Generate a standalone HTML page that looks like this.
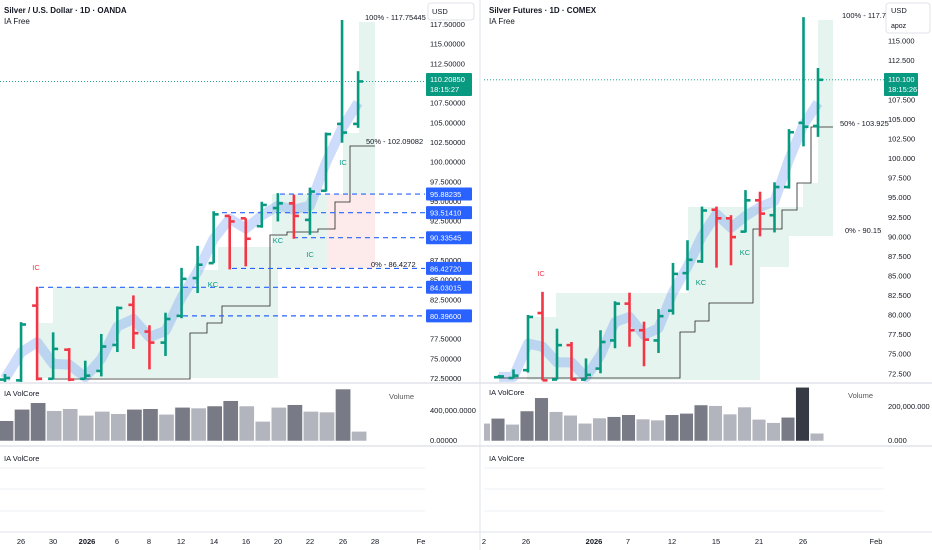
<!DOCTYPE html>
<html><head><meta charset="utf-8"><style>
html,body{margin:0;padding:0;background:#fff;}
svg{display:block;font-family:"Liberation Sans",sans-serif;}
</style></head><body>
<svg id="c" width="932" height="550" viewBox="0 0 932 550" xmlns="http://www.w3.org/2000/svg">
</svg>
<script>
// ---- data: left panel (Silver / USD OANDA) ----
const leftOpen  = [72.3,72.2,81.7,72.4,76.1,72.4,73.4,76.7,81.8,78.4,77.0,80.4,85.2,87.1,93.1,92.8,91.8,94.1,94.7,92.6,96.3,104.8,104.8];
const leftHigh  = [73.0,79.6,84.1,78.3,76.3,74.7,78.1,81.6,83.0,79.2,80.8,86.5,89.3,93.7,93.1,92.8,94.9,96.0,95.8,96.7,103.7,118.0,111.5];
const leftLow   = [72.0,72.0,72.2,72.3,72.1,72.3,72.7,75.8,76.2,73.6,75.3,80.1,83.3,87.1,86.3,86.7,91.6,92.4,90.2,90.7,96.2,102.4,104.3];
const leftClose = [72.5,79.3,72.4,76.2,72.3,72.8,76.5,81.4,78.2,77.0,80.0,85.1,86.9,93.3,92.4,90.2,94.5,94.7,93.1,96.2,103.5,103.7,110.2];
const leftVol   = [268,418,505,400,426,338,391,360,418,426,352,444,435,462,532,462,259,444,479,391,382,686,127];
const leftVolDark = [1,1,1,0,0,0,0,0,1,1,0,1,0,1,1,0,0,0,1,0,0,1,0];
const leftTicks = [117.5,115,112.5,110,107.5,105,102.5,100,97.5,95,92.5,90,87.5,85,82.5,80,77.5,75,72.5];
const leftLevels = [95.88235,93.5141,90.33545,86.4272,84.03015,80.396];
const leftLevelStart = [280,222,293,232,39,183];
// ---- data: right panel (Silver Futures COMEX) ----
const rightOpen  = [72.0,71.9,72.9,80.2,71.7,76.1,71.7,73.1,76.7,81.4,78.0,76.7,80.5,85.3,86.8,93.4,92.3,90.6,94.6,92.7,96.3,104.5,104.1];
const rightHigh  = [72.3,73.0,79.95,82.9,78.2,76.5,74.4,78.0,81.7,82.8,79.1,80.7,86.6,89.5,93.8,93.8,92.7,95.9,95.7,96.9,103.7,118.0,111.5];
const rightLow   = [71.9,71.9,72.6,71.6,71.7,71.6,71.7,72.5,75.7,75.9,73.4,75.1,80.0,83.1,86.6,86.0,86.3,90.5,90.0,90.5,96.1,101.5,102.7];
const rightClose = [72.1,72.2,79.7,71.6,76.1,71.7,72.3,76.5,81.4,78.0,76.8,79.8,85.2,87.0,93.3,92.3,89.9,94.6,92.9,96.3,103.3,104.0,110.0];
const rightVol   = [103,132,97,175,252,171,150,103,134,142,153,128,122,153,161,210,206,157,198,126,107,138,313,45];
const rightVolDark = [0,1,0,1,1,0,0,0,0,1,1,0,0,1,1,1,0,0,0,0,0,1,2,0];
const rightTicks = [115,112.5,110,107.5,105,102.5,100,97.5,95,92.5,90,87.5,85,82.5,80,77.5,75,72.5];
const leftDates = ["26","30","2026","6","8","12","14","16","20","22","26","28","Fe"];
const leftDateX = [21,53,87,117,149,181,214,246,278,310,343,375,421];
const rightDates = ["2","26","2026","7","12","15","21","26","Feb"];
const rightDateX = [484,526,594,628,672,716,759,803,876];

const NS="http://www.w3.org/2000/svg";
const svg=document.getElementById('c');
function mk(tag,attrs,parent){const e=document.createElementNS(NS,tag);for(const k in attrs)e.setAttribute(k,attrs[k]);(parent||svg).appendChild(e);return e;}
function txt(x,y,s,attrs,parent){const t=mk('text',Object.assign({x:x,y:y,'font-size':8,fill:'#131722'},attrs||{}),parent);t.textContent=s;return t;}

const GREEN='#089981',RED='#f23645',ZONE='#e6f4ef';
const yL=p=>378-(p-72.5)*7.867;
const xL=i=>5+16.05*i;
const yR=p=>373.3-(p-72.5)*7.827;
const xR=i=>499+14.5*i;
const vBase=441;
const vL=v=>vBase-v*30.3/400;
const vR=v=>vBase-v*34.3/200;

const defs=mk('defs',{});
const cpL=mk('clipPath',{id:'cl'},defs);mk('rect',{x:0,y:0,width:425,height:382},cpL);
const cpR=mk('clipPath',{id:'cr'},defs);mk('rect',{x:484,y:0,width:400,height:382},cpR);
const cvL=mk('clipPath',{id:'cvl'},defs);mk('rect',{x:0,y:385,width:425,height:60},cvL);
const cvR=mk('clipPath',{id:'cvr'},defs);mk('rect',{x:484,y:385,width:400,height:60},cvR);

let sep=mk('line',{x1:480,y1:0,x2:480,y2:550,stroke:'#e0e3eb','stroke-width':1});


[383,446].forEach(y=>{let l=mk('line',{x1:0,y1:y,x2:932,y2:y,stroke:'#e0e3eb','stroke-width':1.5});
 
 });
[468,489,511].forEach(y=>{let l=mk('line',{x1:0,y1:y,x2:425,y2:y,stroke:'#eef0f3'});
 
 
 let r=mk('line',{x1:484,y1:y,x2:884,y2:y,stroke:'#eef0f3'});
 
 });
let xa=mk('line',{x1:0,y1:532,x2:932,y2:532,stroke:'#e0e3eb'});



function panel(side){
 const L=side==='L';
 const O=L?leftOpen:rightOpen,H=L?leftHigh:rightHigh,Lo=L?leftLow:rightLow,C=L?leftClose:rightClose;
 const xs=L?xL:xR, ys=L?yL:yR;
 const g=mk('g',{'clip-path':L?'url(#cl)':'url(#cr)'});
 
 
 const zones=L?[[39,323,14,55],[53,287,225,91],[200,270,78,17],[218,247,60,23],[272,194,55,74],[343,133,16,61],[359,22,16,172]]
             :[[527,317,29,63],[556,293,204,87],[688,242,72,51],[688,207,101,60],[789,207,44,29],[803,183,15,53],[818,20,15,216]];
 zones.forEach(z=>{const r=mk('rect',{x:z[0],y:z[1],width:z[2],height:z[3],fill:ZONE},g);
  
  });
 if(L){const p=mk('rect',{x:327,y:194,width:48,height:74,fill:'#fdebeb'},g);
  
  }
 let d='';O.forEach((o,i)=>{d+=(i?'L':'M')+xs(i)+' '+ys((o+C[i])/2);});
 const rb=mk('path',{d:d,fill:'none',stroke:'rgba(90,140,240,0.3)','stroke-width':10,'stroke-linejoin':'round'},g);
 
 
 const st=L?[[53,379],[190,379],[190,333],[207,333],[207,323],[222,323],[222,306],[270,306],[270,235],[287,235],[287,232],[318,232],[318,229],[335,229],[335,202],[350,202],[350,146],[375,146]]
           :[[499,378],[680,378],[680,332],[695,332],[695,321],[709,321],[709,303],[753,303],[753,229],[782,229],[782,210],[797,210],[797,183],[811,183],[811,127],[833,127]];
 const sl=mk('polyline',{points:st.map(p=>p.join(',')).join(' '),fill:'none',stroke:'#222','stroke-width':0.8},g);
 
 
 if(L){leftLevels.forEach((lv,i)=>{const l=mk('line',{x1:leftLevelStart[i],y1:yL(lv),x2:425,y2:yL(lv),stroke:'#2962ff','stroke-width':1.2,'stroke-dasharray':'5,4'},g);
  
  });}
 const cp=C[C.length-1];
 const pl=mk('line',{x1:L?0:484,y1:ys(cp),x2:L?425:884,y2:ys(cp),stroke:GREEN,'stroke-width':0.8,'stroke-dasharray':'1,2'},g);
 
 
 O.forEach((o,i)=>{const prev=i?C[i-1]:o;const c=C[i]>=prev?GREEN:RED;const x=xs(i);
  const b=mk('g',{stroke:c,'stroke-width':2.6},g);
  
  
  mk('line',{x1:x,y1:ys(H[i]),x2:x,y2:ys(Lo[i])},b);
  mk('line',{x1:x-5,y1:ys(o),x2:x,y2:ys(o)},b);
  mk('line',{x1:x,y1:ys(C[i]),x2:x+5,y2:ys(C[i])},b);});
 return g;
}
panel('L');panel('R');

[[36,270,'IC',RED],[213,287,'KC',GREEN],[278,243,'KC',GREEN],[310,257,'IC',GREEN],[343,165,'IC',GREEN],[541,276,'IC',RED],[701,285,'KC',GREEN],[745,255,'KC',GREEN]].forEach(a=>{
 const t=txt(a[0],a[1],a[2],{fill:a[3],'font-size':7.5,'text-anchor':'middle'});
 
 });
[[365,20,'100% - 117.75445'],[366,144,'50% - 102.09082'],[371,267,'0% - 86.4272'],[842,18,'100% - 117.7'],[840,126,'50% - 103.925'],[845,233,'0% - 90.15']].forEach(a=>{
 const t=txt(a[0],a[1],a[2],{'font-size':7.5});
 
 });

leftTicks.forEach(p=>{const t=txt(430,yL(p)+3,p.toFixed(5),{'font-size':7.5});
 
 });
rightTicks.forEach(p=>{const t=txt(888,yR(p)+3,p.toFixed(3),{'font-size':7.5});
 
 });
leftLevels.forEach(lv=>{const g=mk('g',{});
 
 
 mk('rect',{x:426,y:yL(lv)-6.5,width:46,height:13,fill:'#2962ff',rx:1},g);
 txt(430,yL(lv)+3,lv.toFixed(5),{fill:'#fff','font-size':7.5},g);});
[[426,73,46,'110.20850','18:15:27'],[884,73,34,'110.100','18:15:26']].forEach(a=>{const g=mk('g',{});
 
 
 mk('rect',{x:a[0],y:a[1],width:a[2],height:23,fill:GREEN,rx:1},g);
 txt(a[0]+4,a[1]+9,a[3],{'font-size':7.5,fill:'#fff'},g);
 txt(a[0]+4,a[1]+19,a[4],{'font-size':7.5,fill:'#fff'},g);});
let cb=mk('rect',{x:428,y:3,width:46,height:17,fill:'#fff',stroke:'#e0e3eb',rx:3});


txt(432,14,'USD',{'font-size':7.5});
cb=mk('rect',{x:886,y:3,width:44,height:30,fill:'#fff',stroke:'#e0e3eb',rx:3});


txt(891,13,'USD',{'font-size':7.5});txt(891,28,'apoz',{'font-size':7});

[[4,'Silver / U.S. Dollar · 1D · OANDA'],[489,'Silver Futures · 1D · COMEX']].forEach(a=>{const t=txt(a[0],13,a[1],{'font-size':8,'font-weight':'bold'});
 
 
 const s=txt(a[0],24,'IA Free',{'font-size':8});
 
 });

function vol(L){const g=mk('g',{'clip-path':L?'url(#cvl)':'url(#cvr)'});
 
 
 const V=L?leftVol:rightVol,D=L?leftVolDark:rightVolDark;
 V.forEach((v,i)=>{const cx=L?6+16.05*i:xR(i-1)-1;const w=L?15.2:13.6;const top=L?vL(v):vR(v);
  const col=D[i]===2?'#363a45':D[i]?'#787b86':'#b2b5be';
  const r=mk('rect',{x:cx-w/2,y:top,width:w,height:vBase-top,fill:col,stroke:'#fff','stroke-width':0.5},g);
  
  });}
vol(true);vol(false);
[[4,396],[489,395],[4,461],[489,461]].forEach(a=>{const t=txt(a[0],a[1],'IA VolCore',{'font-size':7.5});
 
 });
txt(389,399,'Volume',{'font-size':7.5,fill:'#555'});txt(848,398,'Volume',{'font-size':7.5,fill:'#555'});
txt(430,413,'400,000.0000',{'font-size':7.5});txt(430,443,'0.00000',{'font-size':7.5});
txt(888,409,'200,000.000',{'font-size':7.5});txt(888,443,'0.000',{'font-size':7.5});

leftDates.forEach((d,i)=>{const t=txt(leftDateX[i],544,d,{'font-size':7.5,'text-anchor':'middle','font-weight':d==='2026'?'bold':'normal'});
 
 });
rightDates.forEach((d,i)=>{const t=txt(rightDateX[i],544,d,{'font-size':7.5,'text-anchor':'middle','font-weight':d==='2026'?'bold':'normal'});
 
 });
</script>
</body></html>
